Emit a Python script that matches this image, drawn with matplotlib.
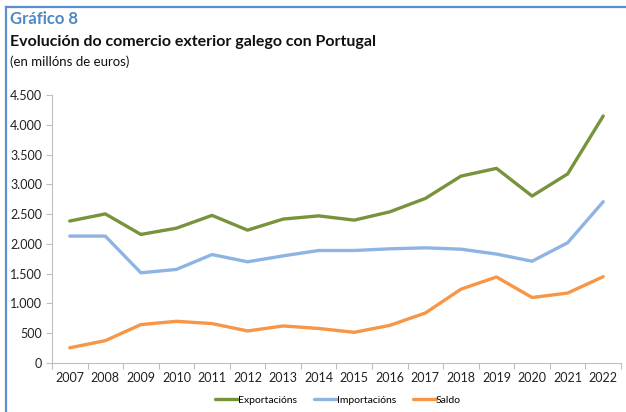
import numpy as np
import matplotlib.pyplot as plt
from matplotlib.lines import Line2D
from matplotlib.ticker import FuncFormatter

# Datos (millóns de euros)
anos = [2007, 2008, 2009, 2010, 2011, 2012, 2013, 2014, 2015, 2016, 2017, 2018, 2019, 2020, 2021, 2022]
exportacions = [2385, 2505, 2160, 2265, 2480, 2232, 2418, 2472, 2400, 2540, 2765, 3140, 3270, 2805, 3177, 4150]
importacions = [2132, 2132, 1515, 1572, 1822, 1700, 1800, 1890, 1890, 1918, 1935, 1912, 1830, 1710, 2020, 2710]
saldo = [255, 375, 645, 700, 662, 538, 622, 580, 515, 632, 840, 1240, 1445, 1100, 1175, 1450]

series = [
    ('Exportacións', exportacions, '#77933C'),
    ('Importacións', importacions, '#8EB4E3'),
    ('Saldo', saldo, '#F79646'),
]

plt.rcParams['font.family'] = ['Lato', 'DejaVu Sans']

fig = plt.figure(figsize=(6.26, 4.12), dpi=100)
ax = fig.add_axes([0.083, 0.119, 0.909, 0.650])

x = np.arange(len(anos))
for nome, vals, cor in series:
    ax.plot(x, vals, color=cor, linewidth=2.4, label=nome, solid_capstyle='round')

ax.set_xlim(-0.5, len(anos) - 0.5)
ax.set_ylim(0, 4500)
ax.set_yticks(np.arange(0, 4501, 500))
ax.yaxis.set_major_formatter(FuncFormatter(lambda v, p: f'{int(v):,}'.replace(',', '.')))
ax.set_xticks(x)
ax.set_xticklabels([str(a) for a in anos])
ax.set_xticks(np.arange(-0.5, len(anos), 1), minor=True)
ax.tick_params(axis='x', which='major', length=0, pad=6.5, labelsize=9, colors='#222222')
ax.tick_params(axis='x', which='minor', length=4, color='#BFBFBF', width=0.8)
ax.tick_params(axis='y', length=4, width=0.8, labelsize=9, pad=3,
               colors='#BFBFBF', labelcolor='#222222')

for s in ['top', 'right']:
    ax.spines[s].set_visible(False)
for s in ['left', 'bottom']:
    ax.spines[s].set_color('#BFBFBF')
    ax.spines[s].set_linewidth(0.8)

leg = fig.legend(loc='center', bbox_to_anchor=(0.54, 0.028), ncol=3, frameon=False,
                 fontsize=7.5, handlelength=2.2, handletextpad=0.0, columnspacing=1.6)
for h in leg.get_lines():
    h.set_linewidth(2.4)

# Títulos
fig.text(0.016, 0.953, 'Gráfico 8', fontsize=12, color='#4F86C6', fontweight='bold', va='center')
fig.text(0.016, 0.898, 'Evolución do comercio exterior galego con Portugal', fontsize=11.5,
         color='#111111', fontweight='bold', va='center')
fig.text(0.016, 0.849, '(en millóns de euros)', fontsize=9.5, color='#111111', va='center')

# Marco
fig.add_artist(Line2D([0.0095, 0.0095], [0.0, 0.983], color='#5B8FD0', linewidth=1.6))
fig.add_artist(Line2D([0.0095, 1.0], [0.983, 0.983], color='#5B8FD0', linewidth=1.6))

fig.savefig('out.png', dpi=100)
